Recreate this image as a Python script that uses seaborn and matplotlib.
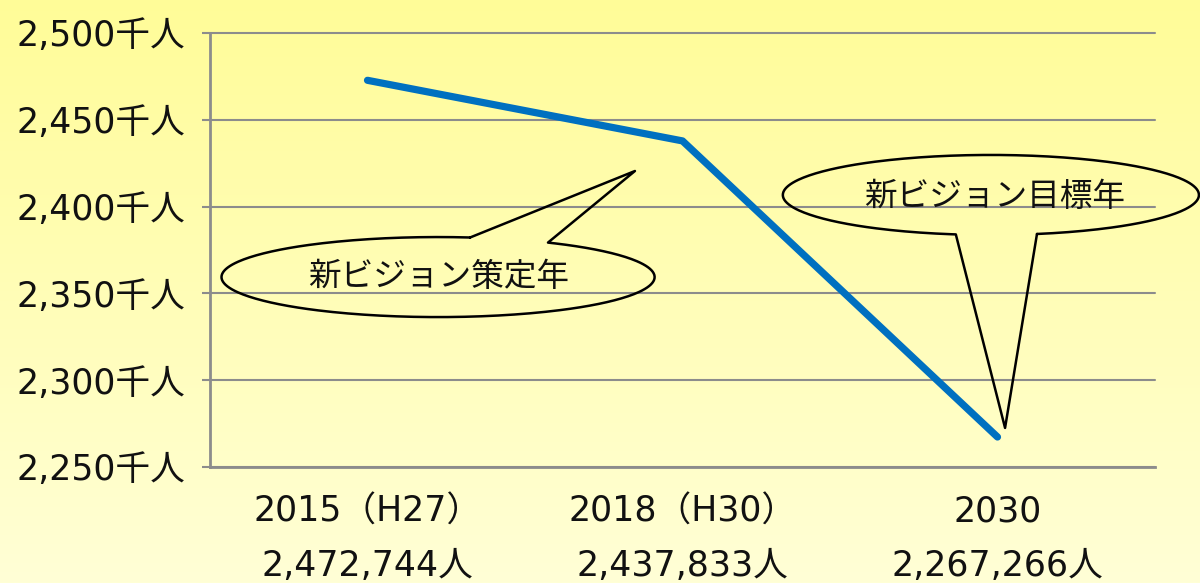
import numpy as np
import pandas as pd
import matplotlib
matplotlib.use("Agg")
import matplotlib.pyplot as plt
import seaborn as sns

# data
years = ["2015（H27）", "2018（H30）", "2030"]
people = [2472744, 2437833, 2267266]
y_ticks = [2250, 2300, 2350, 2400, 2450, 2500]
callout_texts = ["新ビジョン策定年", "新ビジョン目標年"]

df = pd.DataFrame({"pos": range(len(years)), "thousand": np.array(people) / 1000})

sns.set_theme(style="white")
plt.rcParams["font.family"] = ["Noto Sans CJK JP", "DejaVu Sans"]
label_family = ["DejaVu Sans", "Noto Sans CJK JP"]  # wide digits like the original

fig = plt.figure(figsize=(12, 5.83), dpi=100)

# yellow gradient background
bg = fig.add_axes([0, 0, 1, 1], zorder=-1)
grad = np.linspace(0, 1, 256)[:, None, None]
top_col = np.array([255, 252, 152]) / 255
bot_col = np.array([255, 255, 214]) / 255
bg.imshow(top_col + (bot_col - top_col) * grad, aspect="auto", extent=[0, 1, 0, 1], origin="upper")
bg.axis("off")

ax = fig.add_axes([0.175, 0.199, 0.7875, 0.7444])
ax.patch.set_alpha(0)

sns.lineplot(data=df, x="pos", y="thousand", ax=ax, color="#0070C0",
             linewidth=5.2, solid_capstyle="round", zorder=3)

ax.set_xlim(-0.5, 2.5)
ax.set_ylim(2250, 2500)
ax.set_yticks(y_ticks)
ax.set_yticklabels([f"{v:,}千人" for v in y_ticks], fontsize=25, color="#111111",
                   family=label_family)
ax.yaxis.grid(True, color="#8c8c8c", linewidth=1.5)
for gl in ax.get_ygridlines():
    gl.set_clip_on(False)

ax.set_xticks(range(len(years)))
ax.set_xticklabels([f"{y}\n{p:,}人" for y, p in zip(years, people)],
                   fontsize=25, color="#111111", linespacing=1.75, family=label_family)
ax.set_xticks([-0.5, 0.5, 1.5, 2.5], minor=True)
ax.tick_params(axis="x", which="major", length=0, pad=20)
ax.tick_params(axis="x", which="minor", length=6, width=1.5, color="#8c8c8c", direction="out")
ax.tick_params(axis="y", length=6, width=1.5, color="#8c8c8c", direction="out", pad=12, left=True)
ax.set_xlabel("")
ax.set_ylabel("")

for side in ["top", "right"]:
    ax.spines[side].set_visible(False)
for side in ["left", "bottom"]:
    ax.spines[side].set_color("#8c8c8c")
    ax.spines[side].set_linewidth(2)


def callout(cx, cy, w, h, t_start, t_end, tip, text, tx, ty):
    t = np.deg2rad(np.linspace(t_start, t_end, 300))
    xs = cx + w / 2 * np.cos(t)
    ys = cy + h / 2 * np.sin(t)
    xs = np.r_[xs, tip[0], xs[0]]
    ys = np.r_[ys, tip[1], ys[0]]
    ax.plot(xs, ys, color="black", linewidth=1.8, clip_on=False, zorder=4)
    ax.text(tx, ty, text, ha="center", va="center", fontsize=23.5, color="#111111", zorder=5)


callout(0.224, 2359.4, 1.375, 46.1, 81.5, 419.5, (0.849, 2420.5), callout_texts[0], 0.225, 2359.4)
callout(1.979, 2406.7, 1.321, 46.1, 282.8, 620.3, (2.024, 2272.5), callout_texts[1], 1.992, 2405.7)

fig.savefig("out.png", dpi=100)
